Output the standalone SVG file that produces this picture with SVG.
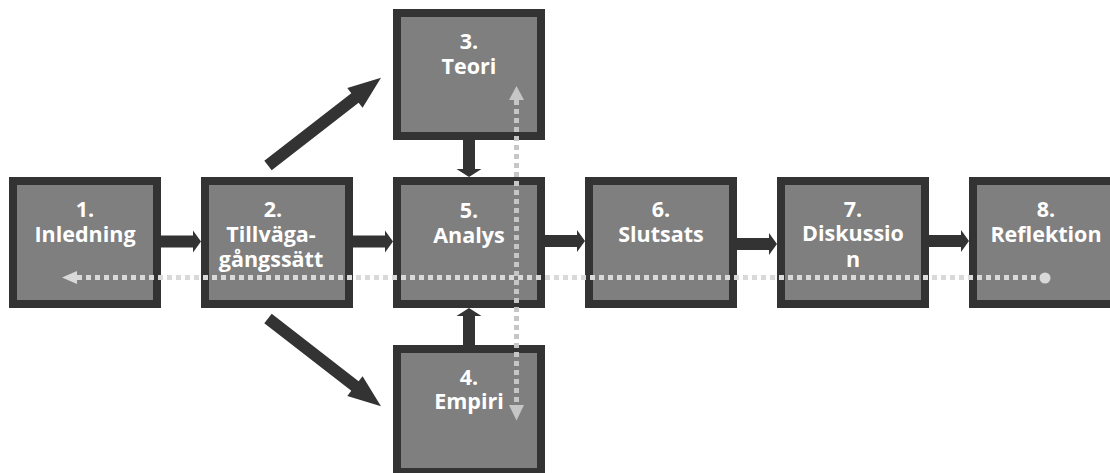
<svg xmlns="http://www.w3.org/2000/svg" width="1110" height="473" viewBox="0 0 1110 473">
<style>
.box{fill:#7f7f7f;stroke:#333333;stroke-width:8}
.lbl{font-family:"Open Sans","Liberation Sans",sans-serif;font-weight:700;font-size:21.5px;fill:#ffffff;text-anchor:middle}
.arr{fill:#333333}
.dh{stroke:#d9d9d9;stroke-width:5;stroke-dasharray:5 4;fill:none}
.dv{stroke:#c6c6c6;stroke-width:5;stroke-dasharray:5 4;fill:none}
</style>
<rect width="1110" height="473" fill="#ffffff"/>
<g id="n1"><rect class="box" x="13" y="181" width="144" height="123"/><text class="lbl"><tspan x="85" y="217">1.</tspan><tspan x="85" y="242">Inledning</tspan></text></g>
<g id="n2"><rect class="box" x="205" y="181" width="144" height="123"/><text class="lbl"><tspan x="273" y="217">2.</tspan><tspan x="271" y="242">Tillväga-</tspan><tspan x="271" y="267">gångssätt</tspan></text></g>
<g id="n3"><rect class="box" x="397" y="13" width="144" height="123"/><text class="lbl"><tspan x="469" y="49">3.</tspan><tspan x="469" y="73.5">Teori</tspan></text></g>
<g id="n4"><rect class="box" x="397" y="349" width="144" height="123"/><text class="lbl"><tspan x="469" y="385">4.</tspan><tspan x="469" y="409">Empiri</tspan></text></g>
<g id="n5"><rect class="box" x="397" y="181" width="144" height="123"/><text class="lbl"><tspan x="469" y="218">5.</tspan><tspan x="469" y="243">Analys</tspan></text></g>
<g id="n6"><rect class="box" x="589" y="181" width="144" height="123"/><text class="lbl"><tspan x="661" y="217">6.</tspan><tspan x="661" y="241.5">Slutsats</tspan></text></g>
<g id="n7"><rect class="box" x="781" y="181" width="144" height="123"/><text class="lbl"><tspan x="853" y="217">7.</tspan><tspan x="853" y="241">Diskussio</tspan><tspan x="853" y="266.5">n</tspan></text></g>
<g id="n8"><rect class="box" x="973" y="181" width="144" height="123"/><text class="lbl"><tspan x="1046" y="217">8.</tspan><tspan x="1046" y="241.5">Reflektion</tspan></text></g>
<g id="connectors">
<polygon class="arr" points="161,235.5 193,235.5 193,230.5 201,241.5 193,252.5 193,247.5 161,247.5"/>
<polygon class="arr" points="353,235.5 385,235.5 385,230.5 393,241.5 385,252.5 385,247.5 353,247.5"/>
<polygon class="arr" points="545,235 577,235 577,230 585,241 577,252 577,247 545,247"/>
<polygon class="arr" points="737,238 769,238 769,233 777,244 769,255 769,250 737,250"/>
<polygon class="arr" points="928,235 961,235 961,230 969,241 961,252 961,247 928,247"/>
<polygon class="arr" points="463,140 475,140 475,169 481.5,169 469,177 456.5,169 463,169"/>
<polygon class="arr" points="463,345 475,345 475,316 481.5,316 469,308 456.5,316 463,316"/>
<polygon class="arr" points="264.3,160.8 351.3,93.2 347.3,88.1 381,77.7 362.6,107.8 358.6,102.7 271.7,170.2"/>
<polygon class="arr" points="264.3,323.2 351.3,390.8 347.3,395.9 381,406.3 362.6,376.2 358.6,381.3 271.7,313.8"/>
<line class="dh" x1="77" y1="277.5" x2="1042" y2="277.5"/>
<polygon fill="#d9d9d9" points="62,277.5 77,271 77,284"/>
<circle cx="1045" cy="278" r="5.5" fill="#d9d9d9"/>
<line class="dv" x1="516.5" y1="100" x2="516.5" y2="405"/>
<polygon fill="#c6c6c6" points="516.5,86 509,100 524,100"/>
<polygon fill="#c6c6c6" points="509,405 524,405 516.5,420.5"/>
</g>
</svg>
